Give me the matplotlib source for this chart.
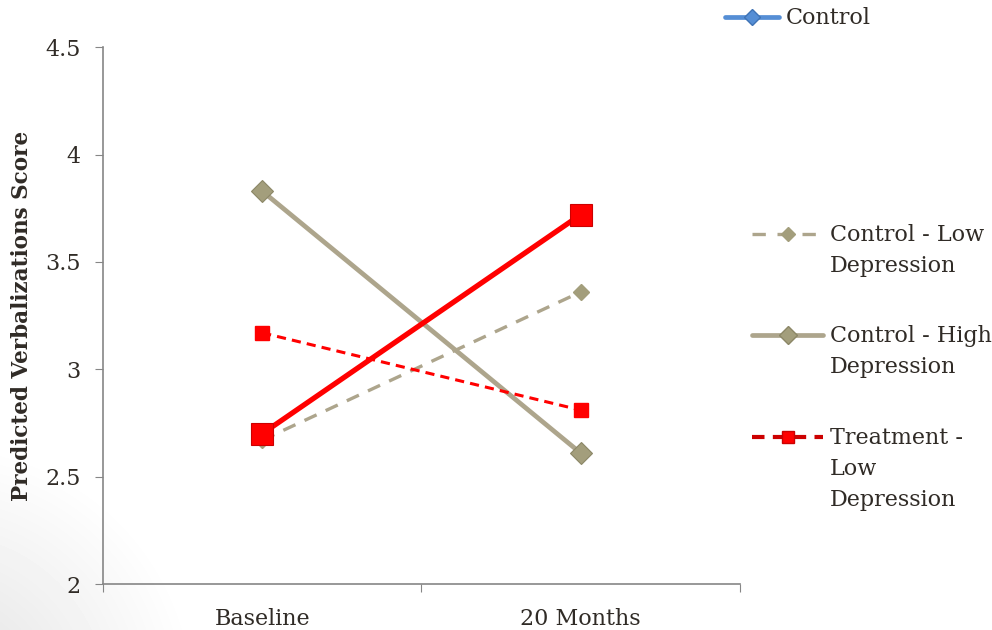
import matplotlib
matplotlib.use('Agg')
import numpy as np
import matplotlib.pyplot as plt
from matplotlib.lines import Line2D

periods = ['Baseline', '20 Months']
control_low = [2.67, 3.36]
control_high = [3.83, 2.61]
treatment_low = [3.17, 2.81]
treatment_high = [2.70, 3.72]

series_labels = ['Control', 'Control - Low\nDepression', 'Control - High\nDepression',
                 'Treatment -\nLow\nDepression']
y_ticks = [2, 2.5, 3, 3.5, 4, 4.5]
y_tick_labels = ['2', '2.5', '3', '3.5', '4', '4.5']

tan = '#ADA58C'
olive = '#A39E7C'
red = '#FF0000'
blue = '#558ED5'
ink = '#302B26'
axis_grey = '#868686'

plt.rcParams['font.family'] = ['DejaVu Serif']
plt.rcParams['text.color'] = ink

W, H = 992, 630
fig = plt.figure(figsize=(W / 100, H / 100), dpi=100)

# soft grey shading in the lower-left corner of the slide
bg = fig.add_axes([0, 0, 1, 1], zorder=-10)
gx, gy = np.meshgrid(np.arange(W), np.arange(H))
dist = np.hypot(gx + 60, 700 - gy)
shade = 1 - 0.12 * np.clip(1 - dist / 260, 0, 1)
bg.imshow(shade, cmap='gray', vmin=0, vmax=1, origin='upper', aspect='auto')
bg.axis('off')

ax = fig.add_axes([0.1038, 0.073, 0.642, 0.852])
ax.patch.set_alpha(0)

xs = [0.5, 1.5]
ax.plot(xs, control_low, color=tan, lw=2.4, dashes=(4, 3), marker='D', ms=8,
        mfc=olive, mec=olive)
ax.plot(xs, control_high, color=tan, lw=3.4, marker='D', ms=11.5,
        mfc=olive, mec='#8C8767', mew=0.8)
ax.plot(xs, treatment_low, color=red, lw=2.2, dashes=(3, 2), marker='s', ms=9.5,
        mfc=red, mec=red)
ax.plot(xs, treatment_high, color=red, lw=3.8, marker='s', ms=16.5,
        mfc=red, mec='#CC0000', mew=0.8)

ax.set_xlim(0, 2)
ax.set_ylim(2, 4.5)
ax.set_yticks(y_ticks)
ax.set_yticklabels(y_tick_labels, fontsize=16, color=ink)
ax.set_xticks([0, 1, 2])
ax.set_xticklabels([])
ax.set_xticks(xs, minor=True)
ax.set_xticklabels(periods, minor=True, fontsize=16, color=ink)
ax.tick_params(axis='x', which='minor', length=0, pad=17)
ax.tick_params(axis='x', which='major', length=6, direction='out', color=axis_grey)
ax.tick_params(axis='y', length=6, direction='out', color=axis_grey, pad=10)
for side in ['top', 'right']:
    ax.spines[side].set_visible(False)
for side in ['left', 'bottom']:
    ax.spines[side].set_color(axis_grey)
    ax.spines[side].set_linewidth(1.2)
ax.set_ylabel('Predicted Verbalizations Score', fontsize=15.5, fontweight='bold',
              labelpad=9, color=ink)


def legend_entry(x0, x1, y, label, line_kw, marker_kw):
    # handle drawn in pixel units, label's first line level with the handle
    fx = [x0 / W, x1 / W]
    fy = 1 - y / H
    fig.add_artist(Line2D(fx, [fy, fy], transform=fig.transFigure, **line_kw))
    fig.add_artist(Line2D([(x0 + x1) / 2 / W], [fy], transform=fig.transFigure,
                          ls='none', **marker_kw))
    fig.text((x1 + 7) / W, fy + 10 / H, label, fontsize=16, va='top',
             ha='left', linespacing=1.52, color=ink)


legend_entry(725, 779, 17, series_labels[0],
             dict(color=blue, lw=3.4, solid_capstyle='round'),
             dict(marker='D', ms=8, mfc=blue, mec='#3F73B5'))
legend_entry(752, 823, 234, series_labels[1],
             dict(color=tan, lw=2.4, dashes=(4, 3.5)),
             dict(marker='D', ms=7, mfc=olive, mec=olive))
legend_entry(752, 823, 335, series_labels[2],
             dict(color=tan, lw=3.4, solid_capstyle='round'),
             dict(marker='D', ms=9, mfc=olive, mec='#8C8767'))
legend_entry(752, 823, 437, series_labels[3],
             dict(color='#CC0000', lw=3, dashes=(3, 2)),
             dict(marker='s', ms=9, mfc=red, mec='#CC0000'))

fig.savefig('out.png', dpi=100)
